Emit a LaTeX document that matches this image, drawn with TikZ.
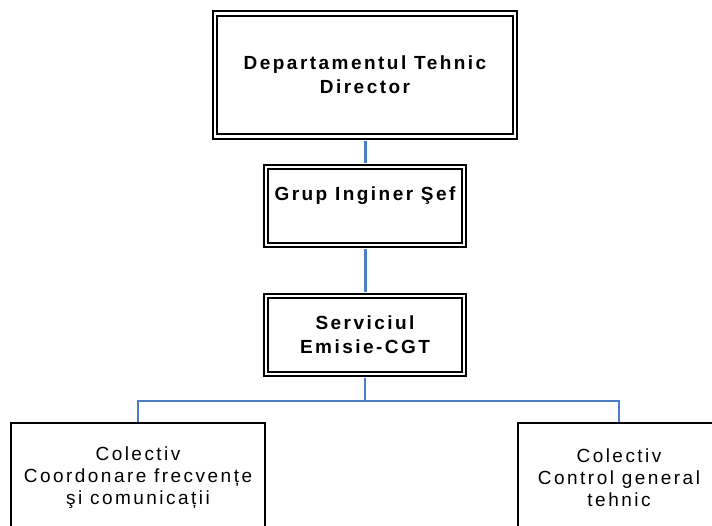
\documentclass[tikz,border=0pt]{standalone}
\usepackage{fontspec}
\setmainfont{Liberation Sans}[LetterSpace=13]
\usepackage{tikz}
\definecolor{linkblue}{HTML}{4A7EC8}
\usetikzlibrary{shapes.geometric, arrows}
\tikzstyle{dblock} = [rectangle, draw, line width=1.8pt, double, double distance=2.6pt,
text centered, align=center, font=\bfseries\fontsize{19}{24}\selectfont, inner sep=0pt]
\tikzstyle{sblock} = [rectangle, draw, line width=1.2pt,
text centered, align=center, font=\fontsize{19}{22}\selectfont, inner sep=0pt]
\tikzstyle{link} = [linkblue, line width=3pt, shorten <=3.1pt, shorten >=3.1pt]
\tikzstyle{branch} = [linkblue, line width=1.6pt]

\begin{document}
\begin{tikzpicture}[x=1pt, y=-1pt]
	\useasboundingbox (0,0) rectangle (712,525);
	\node (Dept) [dblock, minimum width=300pt, minimum height=123pt] at (365,75) {Departamentul Tehnic\\Director};
	\node (Grup) [dblock, minimum width=198pt, minimum height=78pt] at (365,206) {Grup Inginer Şef\\\mbox{}};
	\node (Serv) [dblock, minimum width=198pt, minimum height=78pt] at (365,335) {Serviciul\\Emisie-CGT};
	\node (Coord) [sblock, minimum width=254pt, minimum height=110pt] at (138,478) {Colectiv\\Coordonare frecvențe\\şi comunicații};
	\node (Control) [sblock, minimum width=202pt, minimum height=110pt] at (619,478) {Colectiv\\Control general\\tehnic};
	\coordinate (Split) at (365,401);

	\draw [link] (Dept) -- (Grup);
	\draw [link] (Grup) -- (Serv);
	\draw [branch, shorten <=3.1pt] (Serv) -- (Split);
	\draw [branch] (Split) -| (Coord.north);
	\draw [branch] (Split) -| (Control.north);
\end{tikzpicture}
\end{document}
